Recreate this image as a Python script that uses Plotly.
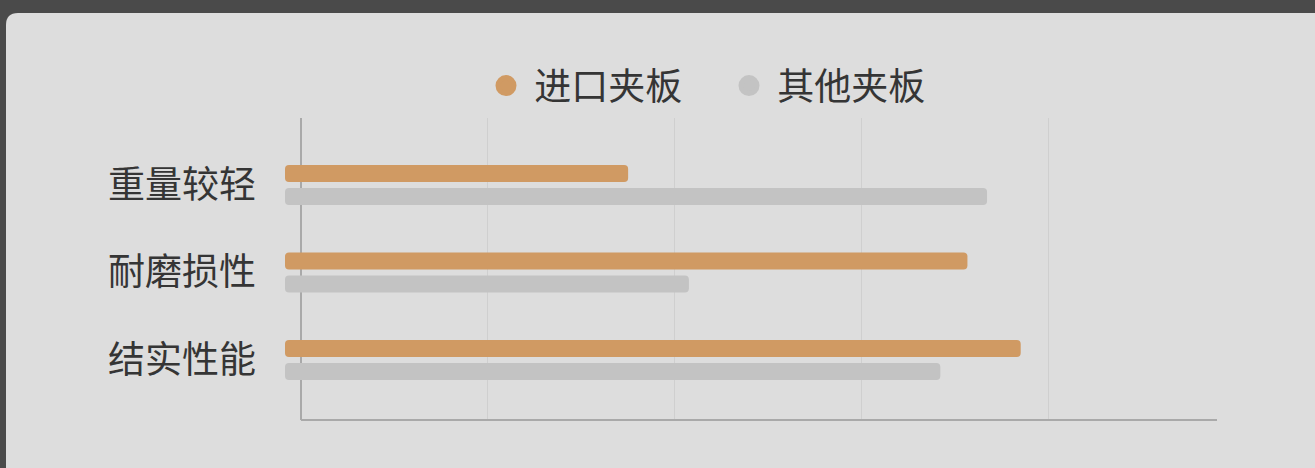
import plotly.graph_objects as go

categories = ["重量较轻", "耐磨损性", "结实性能"]
series_names = ["进口夹板", "其他夹板"]
imported_vals = [35, 71.3, 77]
other_vals = [73.4, 41.5, 68.4]
colors = ["#d09a63", "#c3c3c3"]

W, H = 1315, 468
ml, mr, mt, mb = 285, 98, 118, 48
xmin, xmax = -1.71, 98
bar_base = xmin

fig = go.Figure()
for name, vals, col in zip(series_names, [imported_vals, other_vals], colors):
    fig.add_trace(go.Bar(
        y=categories, x=[v - bar_base for v in vals], base=bar_base, orientation="h",
        name=name, marker=dict(color=col, cornerradius=4, line=dict(width=0)),
        showlegend=False, hoverinfo="skip"))
for name, col in zip(series_names, colors):
    fig.add_trace(go.Scatter(
        x=[None], y=[None], mode="markers", name=" " + name,
        marker=dict(color=col, size=16, symbol="circle", line=dict(color=col, width=5))))

pw = W - ml - mr
ph = H - mt - mb
def px2x(px):
    return (px - ml) / pw
def py2y(py):
    return (H - mb - py) / ph

# card background with rounded top-left corner
x0, y0 = px2x(6), py2y(13)
x1, y1 = px2x(1330), py2y(480)
rx = 12 / pw
ry = 12 / ph
path = (f"M {x0},{y1} L {x0},{y0 - ry} Q {x0},{y0} {x0 + rx},{y0} "
        f"L {x1},{y0} L {x1},{y1} Z")

fig.update_layout(
    width=W, height=H,
    margin=dict(l=ml, r=mr, t=mt, b=mb),
    paper_bgcolor="#4a4a4a",
    plot_bgcolor="rgba(0,0,0,0)",
    font=dict(family="Noto Sans CJK SC", color="#353535", size=37),
    barmode="group", bargap=0.474, bargroupgap=0.26,
    showlegend=True,
    legend=dict(orientation="h", x=px2x(486), xanchor="left", y=py2y(86), yanchor="middle",
                font=dict(size=37, color="#353535"), bgcolor="rgba(0,0,0,0)",
                itemclick=False, entrywidth=198, entrywidthmode="pixels", tracegroupgap=0),
    shapes=[
        dict(type="path", xref="paper", yref="paper", path=path,
             fillcolor="#dddddd", line=dict(width=0), layer="below"),
        dict(type="line", xref="x", yref="paper", x0=0, x1=xmax, y0=0, y1=0,
             line=dict(color="#a9a9a9", width=2), layer="above"),
    ],
    xaxis=dict(range=[xmin, xmax], tickvals=[20, 40, 60, 80], showticklabels=False,
               showgrid=True, gridcolor="#cfcfcf", gridwidth=1,
               zeroline=True, zerolinecolor="#a9a9a9", zerolinewidth=2,
               showline=False, fixedrange=True),
    yaxis=dict(range=[2.686, -0.766], showgrid=False, zeroline=False, showline=False,
               ticks="", ticklabelstandoff=28, tickfont=dict(size=37, color="#353535"),
               fixedrange=True),
)

fig.write_html("out.html", config={"displayModeBar": False},
               post_script="document.body.style.margin='0';document.body.style.overflow='hidden';")
